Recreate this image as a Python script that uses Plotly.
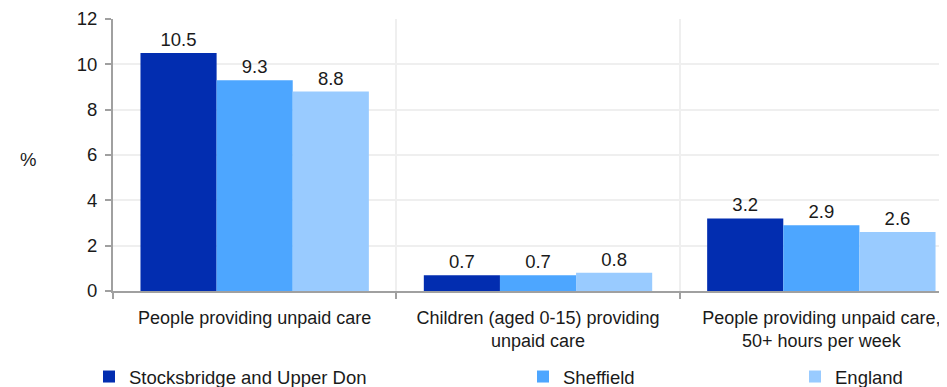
import plotly.graph_objects as go

categories = [
    "People providing unpaid care",
    "Children (aged 0-15) providing<br>unpaid care",
    "People providing unpaid care,<br>50+ hours per week",
]
series_names = ["Stocksbridge and Upper Don", "Sheffield", "England"]
stocksbridge = [10.5, 0.7, 3.2]
sheffield = [9.3, 0.7, 2.9]
england = [8.8, 0.8, 2.6]
colors = ["#022db0", "#4da6ff", "#99cbff"]
y_ticks = [0, 2, 4, 6, 8, 10, 12]

# page has an 8px body margin; figure coordinates are page minus 8
OFF = 8
W, H = 947 - OFF, 387 - OFF
ML, MR, MT = 113 - OFF, 0, 19 - OFF
MB = H - MT - 272

FS = 18.5

fig = go.Figure()
legends = ["legend", "legend2", "legend3"]
for name, vals, col, lg in zip(series_names, [stocksbridge, sheffield, england], colors, legends):
    fig.add_trace(go.Bar(
        x=categories, y=vals, name=name, marker_color=col, marker_line_width=0,
        text=[f"{v:.1f}" for v in vals], textposition="outside",
        textfont=dict(size=FS, color="#1a1a1a"), cliponaxis=False,
        legend=lg,
    ))

font = dict(family="Liberation Sans, Arial, sans-serif", size=FS, color="#1a1a1a")
xfont = dict(family="Liberation Sans, Arial, sans-serif", size=18, color="#1a1a1a")
pw = W - ML - MR
ph = H - MT - MB


def lx(page_px):
    return (page_px - OFF - ML) / pw


def ly(page_py):
    return (H - MB - (page_py - OFF)) / ph


leg_common = dict(orientation="h", yanchor="middle", xanchor="left",
                  font=font, bgcolor="rgba(0,0,0,0)", borderwidth=0,
                  itemclick=False, itemdoubleclick=False)

fig.update_layout(
    width=W, height=H,
    margin=dict(l=ML, r=MR, t=MT, b=MB, autoexpand=False),
    paper_bgcolor="white", plot_bgcolor="white",
    font=font,
    barmode="group", bargap=0.194, bargroupgap=0,
    showlegend=True,
    legend=dict(x=lx(89), y=ly(377), **leg_common),
    legend2=dict(x=lx(523), y=ly(377), **leg_common),
    legend3=dict(x=lx(795), y=ly(377), **leg_common),
    xaxis=dict(
        type="category", range=[-0.5, 2.5 - 16 / 283],
        tickson="boundaries", showgrid=True, gridcolor="#efefef", gridwidth=2,
        showline=True, linecolor="#a0a0a0", linewidth=2,
        ticks="outside", ticklen=6, tickcolor="#a0a0a0", tickwidth=2,
        tickfont=xfont, ticklabelstandoff=9,
    ),
    yaxis=dict(
        range=[0, 12], tickvals=y_ticks, showgrid=True, gridcolor="#efefef", gridwidth=2,
        showline=True, linecolor="#a0a0a0", linewidth=2,
        ticks="outside", ticklen=6, tickcolor="#a0a0a0", tickwidth=2,
        tickfont=font, zeroline=False, ticklabelstandoff=4,
    ),
    annotations=[dict(text="%", xref="paper", yref="paper", x=lx(28), y=ly(160),
                      showarrow=False, font=font, xanchor="center", yanchor="middle")],
)

fig.write_html("out.html")
